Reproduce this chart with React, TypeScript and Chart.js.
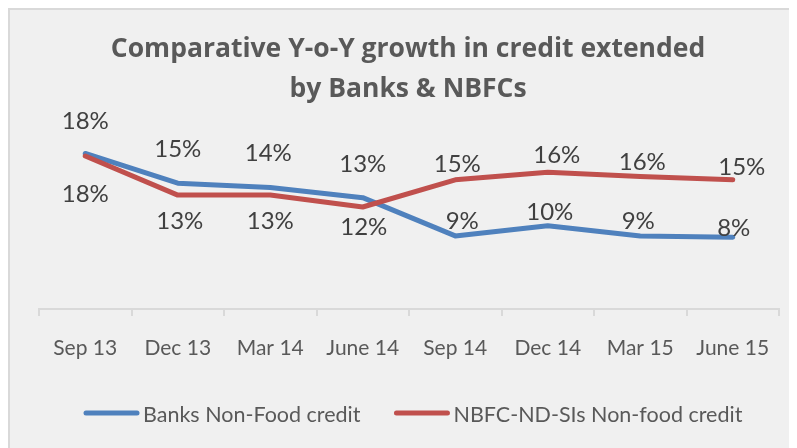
import React, { useEffect, useRef } from "react";
import { Chart, registerables } from "chart.js";

Chart.register(...registerables);

const categories = ["Sep 13", "Dec 13", "Mar 14", "June 14", "Sep 14", "Dec 14", "Mar 15", "June 15"];
const banksValues = [18.3, 14.8, 14.3, 13.1, 8.6, 9.8, 8.6, 8.45];
const nbfcValues = [18.0, 13.4, 13.4, 12.0, 15.2, 16.1, 15.6, 15.2];
const seriesNames = ["Banks Non-Food credit", "NBFC-ND-SIs Non-food credit"];
const titleLines = ["Comparative Y-o-Y growth in credit extended", "by Banks & NBFCs"];

// label placement styling (offset from each point, px)
const banksLabelOffsets = [[0, -33], [0, -35], [-2, -35], [0, -34], [7, -16], [2, -14], [-2, -16], [1, -10]];
const nbfcLabelOffsets = [[0, 37], [2, 25], [0, 25], [1, 19], [2, -16], [9, -18], [2, -15], [9, -13]];

const COLORS = ["#4F81BD", "#C0504D"];
const FONT = "Lato, 'Open Sans', sans-serif";
const TITLE_FONT = "'Open Sans', Lato, sans-serif";

const overlayPlugin = {
  id: "overlay",
  afterDatasetsDraw(chart: any) {
    const ctx = chart.ctx as CanvasRenderingContext2D;
    ctx.save();
    // data labels
    const size = 24;
    ctx.font = `${size}px ${FONT}`;
    ctx.fillStyle = "#404040";
    ctx.textAlign = "center";
    ctx.textBaseline = "alphabetic";
    const offsets = [banksLabelOffsets, nbfcLabelOffsets];
    chart.data.datasets.forEach((ds: any, di: number) => {
      const meta = chart.getDatasetMeta(di);
      meta.data.forEach((pt: any, i: number) => {
        const v = ds.data[i];
        const [dx, dy] = offsets[di][i];
        ctx.fillText(Math.round(v) + "%", pt.x + dx, pt.y + dy + size * 0.36);
      });
    });

    // title
    ctx.font = `bold 26.5px ${TITLE_FONT}`;
    ctx.fillStyle = "#595959";
    ctx.textAlign = "center";
    ctx.fillText(titleLines[0], 398, 47);
    ctx.fillText(titleLines[1], 398, 87);

    // legend
    ctx.font = `21.5px ${FONT}`;
    ctx.textAlign = "left";
    ctx.lineCap = "round";
    ctx.lineWidth = 5;
    let x = 76;
    const ly = 403;
    seriesNames.forEach((name, i) => {
      ctx.strokeStyle = COLORS[i];
      ctx.beginPath();
      ctx.moveTo(x, ly);
      ctx.lineTo(x + 51, ly);
      ctx.stroke();
      x += 57;
      ctx.fillStyle = "#595959";
      ctx.fillText(name, x, 412);
      x += ctx.measureText(name).width + 36;
    });
    ctx.restore();
  },
};

export default function App() {
  const ref = useRef<HTMLCanvasElement>(null);
  useEffect(() => {
    if (!ref.current) return;
    const chart = new Chart(ref.current, {
      type: "line",
      data: {
        labels: categories,
        datasets: [
          {
            label: seriesNames[0],
            data: banksValues,
            borderColor: COLORS[0],
            backgroundColor: COLORS[0],
            borderWidth: 5,
            pointRadius: 0,
            tension: 0,
            borderCapStyle: "round",
            borderJoinStyle: "round",
            order: 1,
          },
          {
            label: seriesNames[1],
            data: nbfcValues,
            borderColor: COLORS[1],
            backgroundColor: COLORS[1],
            borderWidth: 5,
            pointRadius: 0,
            tension: 0,
            borderCapStyle: "round",
            borderJoinStyle: "round",
            order: 0,
          },
        ],
      },
      options: {
        responsive: false,
        animation: false,
        devicePixelRatio: 1,
        layout: { padding: { left: 29, right: 27, top: 129, bottom: 94 } },
        plugins: { legend: { display: false }, title: { display: false }, tooltip: { enabled: false } },
        scales: {
          y: { display: false, min: 0, max: 20 },
          x: {
            offset: true,
            grid: { offset: true, drawOnChartArea: false, drawTicks: true, tickLength: 7, color: "#D9D9D9", lineWidth: 2 },
            border: { display: true, color: "#D9D9D9", width: 2 },
            ticks: { color: "#595959", font: { family: FONT, size: 21 }, padding: 20, maxRotation: 0, autoSkip: false },
            afterFit: (s: any) => {
              s.height = 50;
            },
          },
        },
      },
      plugins: [overlayPlugin],
    });
    return () => chart.destroy();
  }, []);
  return (
    <div
      style={{
        position: "relative",
        width: 789,
        height: 440,
        overflow: "hidden",
        background: "#F0F0F0",
        borderLeft: "2px solid #D9D9D9",
        borderTop: "2px solid #D9D9D9",
        boxSizing: "border-box",
      }}
    >
      <canvas ref={ref} width={796} height={443} style={{ position: "absolute", left: 0, top: 0 }} />
    </div>
  );
}
